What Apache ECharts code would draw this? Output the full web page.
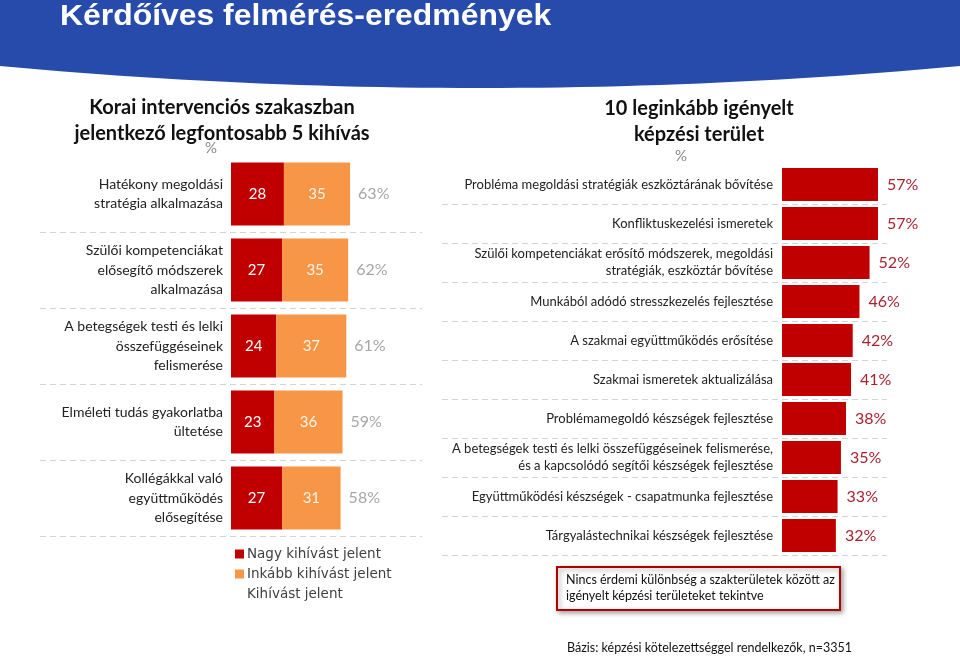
<!DOCTYPE html>
<html>
<head>
<meta charset="utf-8">
<script src="https://cdn.jsdelivr.net/npm/echarts@6/dist/echarts.min.js"></script>
<style>html,body{margin:0;padding:0;background:#fff}#c{width:960px;height:658px}</style>
</head>
<body>
<div id="c"></div>
<script>
// ---- Data ----
const leftCategories = [
  'Hatékony megoldási\nstratégia alkalmazása',
  'Szülői kompetenciákat\nelősegítő módszerek\nalkalmazása',
  'A betegségek testi és lelki\nösszefüggéseinek\nfelismerése',
  'Elméleti tudás gyakorlatba\nültetése',
  'Kollégákkal való\negyüttműködés\nelősegítése'
];
const nagyKihivas = [28, 27, 24, 23, 27];
const inkabbKihivas = [35, 35, 37, 36, 31];
const kihivasOsszes = [63, 62, 61, 59, 58];

const rightCategories = [
  'Probléma megoldási stratégiák eszköztárának bővítése',
  'Konfliktuskezelési ismeretek',
  'Szülői kompetenciákat erősítő módszerek, megoldási\nstratégiák, eszköztár bővítése',
  'Munkából adódó stresszkezelés fejlesztése',
  'A szakmai együttműködés erősítése',
  'Szakmai ismeretek aktualizálása',
  'Problémamegoldó készségek fejlesztése',
  'A betegségek testi és lelki összefüggéseinek felismerése,\nés a kapcsolódó segítői készségek fejlesztése',
  'Együttműködési készségek - csapatmunka fejlesztése',
  'Tárgyalástechnikai készségek fejlesztése'
];
const rightValues = [57, 57, 52, 46, 42, 41, 38, 35, 33, 32];

const legendNames = ['Nagy kihívást jelent', 'Inkább kihívást jelent', 'Kihívást jelent'];

// ---- Styles ----
const RED = '#c00000';
const ORANGE = '#f79646';
const FONT = 'Lato';
const dash = { show: true, lineStyle: { color: '#d4d4d4', type: [6, 4], width: 1 }, showMinLine: false };

// header shape (decorative): flat top, curved bottom edge
const headerPts = [[0, 0], [960, 0]];
for (let i = 0; i <= 48; i++) {
  const t = 1 - i / 48;
  const x = 960 * t;
  const y = 66 + 22 * (1 - Math.pow(2 * t - 1, 2));
  headerPts.push([x, y]);
}

const chart = echarts.init(document.getElementById('c'), null, { renderer: 'canvas' });

const hiddenX = (gi) => ({ gridIndex: gi, type: 'value', min: 0, max: 100, show: false });

chart.setOption({
  animation: false,
  backgroundColor: '#fff',
  graphic: [
    { type: 'polygon', shape: { points: headerPts }, style: { fill: '#274bab' }, z: 0 },
    { type: 'text', x: 60, y: 2, scaleX: 1.1, z: 1,
      style: { text: 'Kérdőíves felmérés-eredmények', fill: '#fff', font: 'bold 29px "Liberation Sans", Arial', textVerticalAlign: 'top' } },
    { type: 'rect', shape: { x: 557, y: 567, width: 283, height: 43 },
      style: { fill: '#fff', stroke: '#b00000', lineWidth: 2, shadowBlur: 5, shadowColor: 'rgba(0,0,0,0.35)', shadowOffsetX: 2, shadowOffsetY: 2 }, z: 5 },
    { type: 'text', left: 566, top: 572, z: 6,
      style: { text: 'Nincs érdemi különbség a szakterületek között az\nigényelt képzési területeket tekintve', fill: '#111', font: '12.5px ' + FONT, lineHeight: 16 } },
    { type: 'text', left: 567, top: 641, z: 6,
      style: { text: 'Bázis: képzési kötelezettséggel rendelkezők, n=3351', fill: '#111', font: '12.5px ' + FONT } }
  ],
  title: [
    { text: 'Korai intervenciós szakaszban\njelentkező legfontosabb 5 kihívás', left: 217, top: 90, textAlign: 'center',
      textStyle: { fontFamily: FONT, fontWeight: 'bold', fontSize: 20, lineHeight: 26, color: '#111' } },
    { text: '%', left: 206, top: 136, textAlign: 'center', textStyle: { fontFamily: FONT, fontWeight: 'normal', fontSize: 15, color: '#888' } },
    { text: '10 leginkább igényelt\nképzési terület', left: 694, top: 91, textAlign: 'center',
      textStyle: { fontFamily: FONT, fontWeight: 'bold', fontSize: 20, lineHeight: 26, color: '#111' } },
    { text: '%', left: 676, top: 144, textAlign: 'center', textStyle: { fontFamily: FONT, fontWeight: 'normal', fontSize: 15, color: '#888' } }
  ],
  legend: {
    data: legendNames, orient: 'vertical', left: 235, top: 547, padding: 0,
    itemWidth: 9, itemHeight: 9, itemGap: 6, icon: 'rect',
    textStyle: { fontFamily: 'DejaVu Sans', fontSize: 13.5, color: '#404040', padding: [0, 0, 0, -2] },
    selectedMode: false
  },
  grid: [
    { left: 231, top: 156, width: 189, height: 380 },
    { left: 40, top: 156, width: 382, height: 380 },
    { left: 782, top: 165, width: 168.4, height: 390 },
    { left: 442, top: 165, width: 445, height: 390 }
  ],
  xAxis: [hiddenX(0), hiddenX(1), hiddenX(2), hiddenX(3)],
  yAxis: [
    { gridIndex: 0, type: 'category', inverse: true, data: leftCategories,
      axisLine: { show: false }, axisTick: { show: false },
      axisLabel: { margin: 8, fontFamily: FONT, fontSize: 14, lineHeight: 19.5, color: '#222', align: 'right', padding: [2, 0, 0, 0] } },
    { gridIndex: 1, type: 'value', inverse: true, min: 0, max: leftCategories.length, interval: 1,
      axisLine: { show: false }, axisTick: { show: false }, axisLabel: { show: false }, splitLine: dash },
    { gridIndex: 2, type: 'category', inverse: true, data: rightCategories,
      axisLine: { show: false }, axisTick: { show: false },
      axisLabel: { margin: 9, fontFamily: FONT, fontSize: 13, lineHeight: 17, color: '#222', align: 'right' } },
    { gridIndex: 3, type: 'value', inverse: true, min: 0, max: rightCategories.length, interval: 1,
      axisLine: { show: false }, axisTick: { show: false }, axisLabel: { show: false }, splitLine: dash }
  ],
  series: [
    { name: legendNames[0], type: 'bar', xAxisIndex: 0, yAxisIndex: 0, stack: 'k', barWidth: 63, barGap: '-100%',
      data: nagyKihivas, itemStyle: { color: RED },
      label: { show: true, position: 'inside', color: '#fff', fontFamily: FONT, fontSize: 15 } },
    { name: legendNames[1], type: 'bar', xAxisIndex: 0, yAxisIndex: 0, stack: 'k', barWidth: 63, barGap: '-100%',
      data: inkabbKihivas, itemStyle: { color: ORANGE },
      label: { show: true, position: 'inside', color: '#fff4ea', fontFamily: FONT, fontSize: 15 } },
    { name: legendNames[2], type: 'bar', xAxisIndex: 0, yAxisIndex: 0, barWidth: 63, barGap: '-100%', z: 1,
      data: kihivasOsszes, itemStyle: { color: 'rgba(0,0,0,0)' },
      label: { show: true, position: 'right', distance: 8, formatter: '{c}%', color: '#a6a6a6', fontFamily: FONT, fontSize: 16 } },
    { name: 'Igény', type: 'bar', xAxisIndex: 2, yAxisIndex: 2, barWidth: 33,
      data: rightValues, itemStyle: { color: RED },
      label: { show: true, position: 'right', distance: 9, formatter: '{c}%', color: '#a8232f', fontFamily: FONT, fontSize: 16 } }
  ]
});
</script>
</body>
</html>
